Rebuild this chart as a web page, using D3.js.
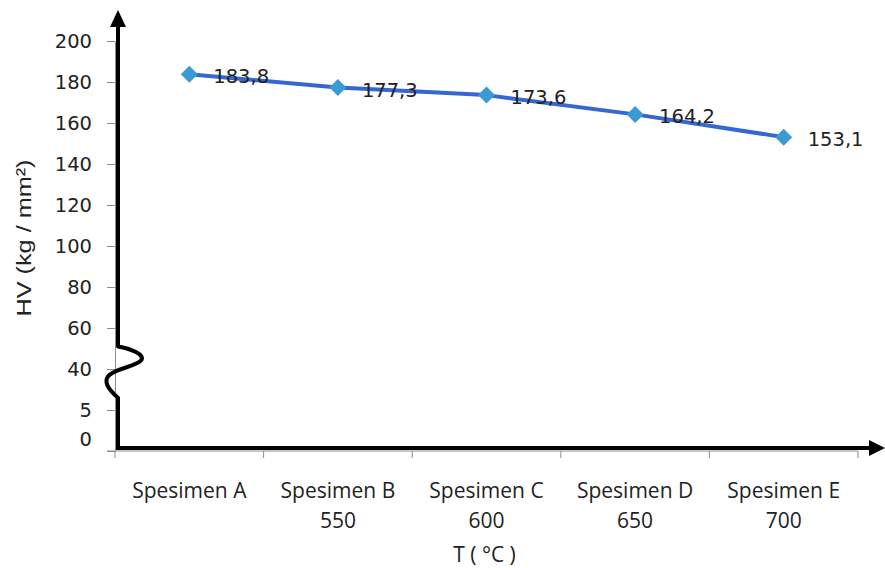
<!DOCTYPE html>
<html>
<head>
<meta charset="utf-8">
<script src="https://cdn.jsdelivr.net/npm/d3@7"></script>
<style>
  html, body { margin: 0; padding: 0; background: #fff; }
  svg { display: block; }
</style>
</head>
<body>
<svg id="chart" width="885" height="568"></svg>
<script>
// ---- data ----
const categories = ["Spesimen A", "Spesimen B", "Spesimen C", "Spesimen D", "Spesimen E"];
const temperatures = ["", "550", "600", "650", "700"];
const hardness = [183.8, 177.3, 173.6, 164.2, 153.1];
const yTickValues = [0, 20, 40, 60, 80, 100, 120, 140, 160, 180, 200];
const yTickLabels = ["0", "5", "40", "60", "80", "100", "120", "140", "160", "180", "200"];
const yTitle = "HV (kg / mm\u00B2)";
const xTitle = "T ( \u00B0C )";

(function () {
// ---- layout ----
const svg = d3.select("#chart");
const pL = 115, pR = 858, pT = 41, pB = 451;
const numFont = "'DejaVu Sans', sans-serif";
const catFont = "'Open Sans', sans-serif";

const x = d3.scaleBand().domain(categories).range([pL, pR]).padding(0);
const y = d3.scaleLinear().domain([0, 200]).range([pB, pT]);
const fmt = d3.formatLocale({decimal: ",", thousands: ".", grouping: [3], currency: ["", ""]}).format(".1f");

// thin grey y axis
const yAxis = d3.axisLeft(y)
  .tickValues(yTickValues)
  .tickFormat((d, i) => yTickLabels[i])
  .tickSize(8)
  .tickSizeOuter(0)
  .tickPadding(15);
const gy = svg.append("g").attr("transform", `translate(${pL},0)`).call(yAxis);
gy.select(".domain").attr("stroke", "#8c8c8c");
gy.selectAll(".tick line").attr("stroke", "#8c8c8c");
gy.selectAll(".tick text")
  .attr("font-family", numFont).attr("font-size", 19.5).attr("fill", "#222");
gy.selectAll(".tick text").filter(d => d === 0).attr("dy", "-0.3em");

// thin grey x axis with ticks at category boundaries
const gx = svg.append("g").attr("transform", `translate(0,${pB})`);
gx.append("line").attr("x1", pL - 8).attr("x2", pR).attr("y1", 0).attr("y2", 0).attr("stroke", "#8c8c8c");
const bounds = categories.map(c => x(c)).concat([x(categories[categories.length - 1]) + x.bandwidth()]);
gx.selectAll("line.bt").data(bounds).enter().append("line")
  .attr("class", "bt")
  .attr("x1", d => d).attr("x2", d => d).attr("y1", 0).attr("y2", 7)
  .attr("stroke", "#8c8c8c");

// category labels (two lines)
const lab = gx.selectAll("text.cat").data(categories).enter().append("text")
  .attr("class", "cat")
  .attr("text-anchor", "middle")
  .attr("font-family", catFont).attr("font-size", 21).attr("fill", "#222");
lab.append("tspan").attr("x", d => x(d) + x.bandwidth() / 2).attr("y", 47).text(d => d);
lab.append("tspan").attr("x", d => x(d) + x.bandwidth() / 2).attr("y", 77).text((d, i) => temperatures[i]);

// axis titles
svg.append("text")
  .attr("x", (pL + pR) / 2 - 2).attr("y", 562)
  .attr("text-anchor", "middle")
  .attr("font-family", catFont).attr("font-size", 21).attr("fill", "#222")
  .text(xTitle);

svg.append("text")
  .attr("transform", `translate(31,238) rotate(-90)`)
  .attr("text-anchor", "middle")
  .attr("font-family", "'Liberation Sans', Arial, sans-serif").attr("font-size", 21).attr("fill", "#222")
  .attr("textLength", 157).attr("lengthAdjust", "spacingAndGlyphs")
  .text(yTitle);

// thick black hand-drawn axes with arrows and break
const vx = pL + 3, hy = pB - 3;
const breakTop = y(51), breakBot = y(26);
const axisG = svg.append("g").attr("fill", "none").attr("stroke", "#000").attr("stroke-width", 4);
axisG.append("line").attr("x1", vx).attr("x2", vx).attr("y1", 24).attr("y2", breakTop);
axisG.append("line").attr("x1", vx).attr("x2", vx).attr("y1", breakBot).attr("y2", hy + 2);
axisG.append("line").attr("x1", vx - 2).attr("x2", 872).attr("y1", hy).attr("y2", hy);
axisG.append("path").attr("stroke-width", 4).attr("stroke-linecap", "round")
  .attr("d", `M${vx},${breakTop} C${vx + 12},${breakTop + 2} ${vx + 28},${breakTop + 8} ${vx + 23},${breakTop + 14}`
    + ` C${vx + 19},${breakTop + 20} ${vx - 4},${breakTop + 22} ${vx - 10},${breakTop + 30}`
    + ` C${vx - 15},${breakTop + 37} ${vx - 6},${breakBot - 5} ${vx},${breakBot}`);
svg.append("path").attr("fill", "#000")
  .attr("d", `M${vx},10 L${vx + 8},27 L${vx - 8},27 Z`);
svg.append("path").attr("fill", "#000")
  .attr("d", `M885,${hy} L869,${hy - 8} L869,${hy + 8} Z`);

// series line
const cx = (d, i) => x(categories[i]) + x.bandwidth() / 2;
const line = d3.line().x((d, i) => cx(d, i)).y(d => y(d));
svg.append("path").datum(hardness)
  .attr("fill", "none").attr("stroke", "#3566d2").attr("stroke-width", 4)
  .attr("stroke-linejoin", "round")
  .attr("d", line);

// markers
svg.selectAll("path.mk").data(hardness).enter().append("path")
  .attr("class", "mk")
  .attr("transform", (d, i) => `translate(${cx(d, i)},${y(d)})`)
  .attr("d", "M0,-8.5 L8.5,0 L0,8.5 L-8.5,0 Z")
  .attr("fill", "#3a9ad6");

// data labels
svg.selectAll("text.dl").data(hardness).enter().append("text")
  .attr("class", "dl")
  .attr("x", (d, i) => cx(d, i) + 24)
  .attr("y", d => y(d) + 9)
  .attr("font-family", numFont).attr("font-size", 19.5).attr("fill", "#222")
  .text(d => fmt(d));
})();
</script>
</body>
</html>
